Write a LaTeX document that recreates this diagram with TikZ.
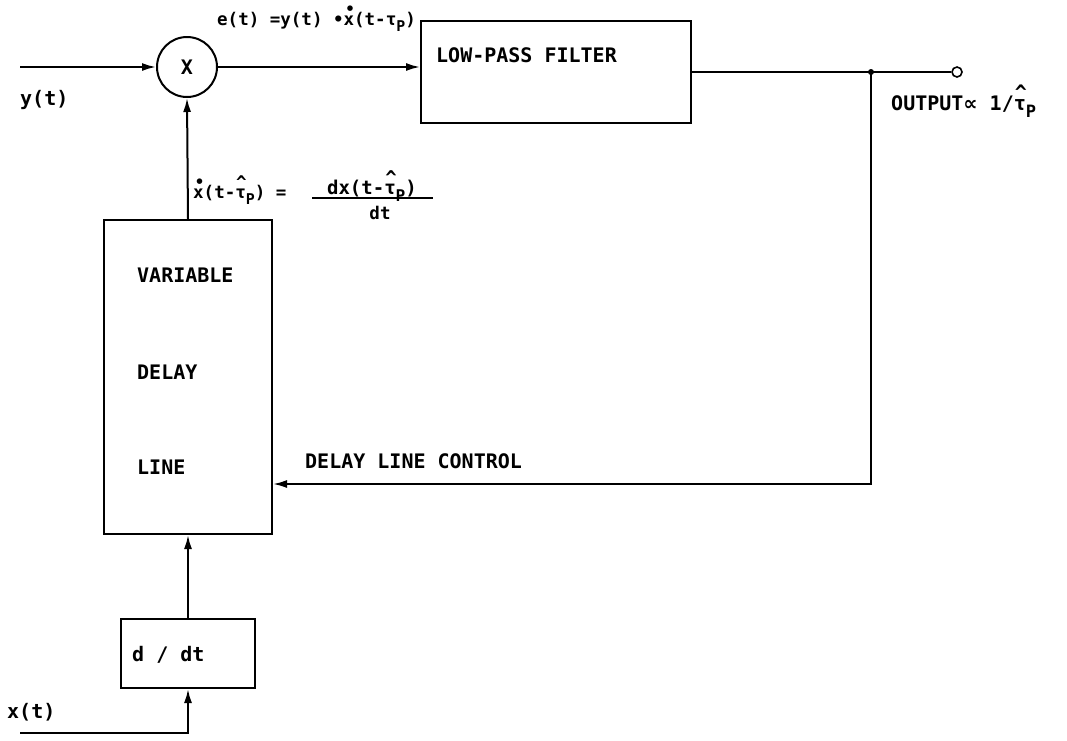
\documentclass[tikz,border=0pt]{standalone}
\usepackage{graphicx}
\usepackage{fontspec}
\setmainfont{DejaVu Sans Mono}
\newfontfamily\symf{DejaVu Sans}
\usetikzlibrary{arrows.meta}
\newcommand{\dotx}{\makebox[0pt][l]{\hspace{0.1em}\raisebox{0.62em}{\scalebox{0.9}{•}}}x}
\newcommand{\tauhat}{\makebox[0pt][l]{\hspace{0.05em}\raisebox{0.55em}{\textasciicircum}}τ}
\newcommand{\subP}{\raisebox{-0.35em}{\scalebox{0.85}{P}}}
\tikzset{
  blk/.style={draw, line width=2pt, inner sep=0pt, anchor=north west},
  lbl/.style={font=\fontsize{20}{22}\selectfont\bfseries, inner sep=0pt},
  sml/.style={font=\fontsize{17.5}{19}\selectfont\bfseries, inner sep=0pt},
  arr/.style={-{Latex[length=14pt,width=8pt]}, line width=2pt},
  wire/.style={line width=2pt}
}
\begin{document}
\begin{tikzpicture}[x=1pt,y=-1pt]
\useasboundingbox (0,0) rectangle (1067,740);
% blocks
\node[draw, circle, line width=2pt, minimum size=60pt, inner sep=0pt, font=\fontsize{20}{22}\selectfont\bfseries] (mult) at (187,67) {X};
\node[blk, minimum width=270pt, minimum height=102pt] (lpf) at (420,20) {};
\node[blk, minimum width=168pt, minimum height=314pt] (delay) at (103,219) {};
\node[blk, minimum width=134pt, minimum height=69pt] (ddt) at (120,618) {};
\node[draw, circle, line width=1.6pt, minimum size=10pt, inner sep=0pt] (out) at (957,72) {};
% coordinates
\coordinate (yin) at (20,67);
\coordinate (xin) at (20,733);
\coordinate (jn) at (871,72);
\coordinate (fbc) at (871,484);
% connectors
\draw[arr] (yin) -- (mult.west);
\draw[arr] (mult.east) -- (mult.east -| lpf.west);
\draw[wire] (jn -| lpf.east) -- (jn) -- (out.west);
\fill (jn) circle (3pt);
\draw[arr] (jn) -- (fbc) -- (fbc -| delay.east);
\draw[arr] (delay.north) -- (mult.south);
\draw[arr] (ddt.north) -- (delay.south);
\draw[arr] (xin) -| (ddt.south);
% texts
\node[lbl, anchor=west] (ylab) at (20,100) {y(t)};
\node[sml, anchor=west] (elab) at (217,19) {e(t) =y(t) •\dotx(t-τ\subP)};
\node[lbl, anchor=west] (lpft) at (436,55) {LOW-PASS FILTER};
\node[lbl, anchor=west] (outlab) at (891,101) {OUTPUT{\symf ∝} 1/\tauhat\subP};
\node[sml, anchor=west] (eqa) at (193,190) {\dotx(t-\tauhat\subP) =};
\node[font=\fontsize{19}{21}\selectfont\bfseries, inner sep=0pt] (eqn) at (372,186) {dx(t-\tauhat\subP)};
\draw[line width=1.4pt] (312,198) -- (433,198);
\node[sml] (eqd) at (380,213) {dt};
\node[lbl, anchor=west] (v1) at (137,275) {VARIABLE};
\node[lbl, anchor=west] (v2) at (137,372) {DELAY};
\node[lbl, anchor=west] (v3) at (137,467) {LINE};
\node[lbl, anchor=west] (dlc) at (305,461) {DELAY LINE CONTROL};
\node[lbl, anchor=west] (ddtt) at (132,655) {d / dt};
\node[lbl, anchor=west] (xlab) at (7,712) {x(t)};
\end{tikzpicture}
\end{document}
